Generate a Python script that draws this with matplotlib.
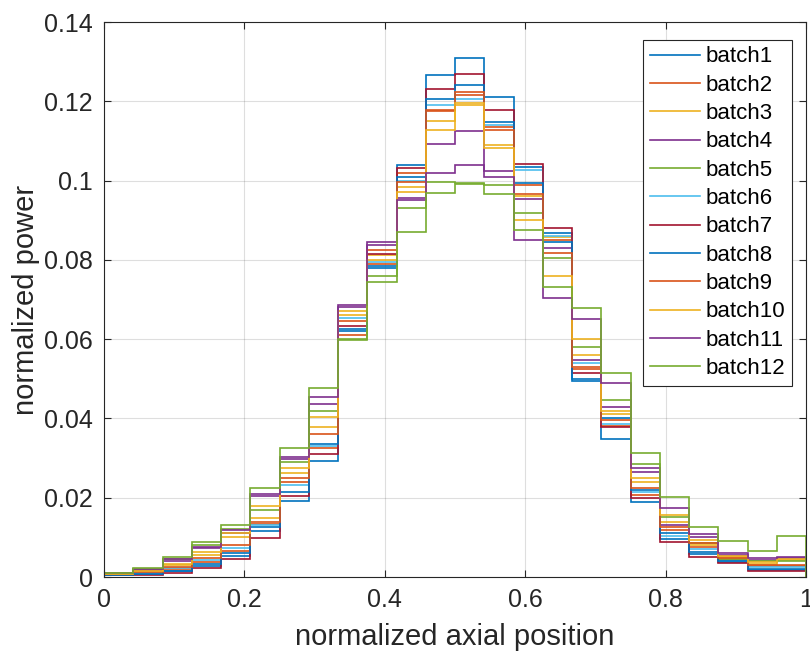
import matplotlib
matplotlib.use("Agg")
import matplotlib.pyplot as plt
import numpy as np

plt.rcParams['font.family'] = ['Liberation Sans', 'DejaVu Sans']

# 24 equal bins on [0, 1]
edges = np.linspace(0, 1, 25)

batch1 = [0.0005, 0.0007, 0.0014, 0.0028, 0.0052, 0.0115, 0.0192, 0.0293, 0.0620, 0.0780, 0.1040, 0.1266,
          0.1309, 0.1210, 0.1035, 0.0868, 0.0494, 0.0347, 0.0190, 0.0095, 0.0058, 0.0038, 0.0017, 0.0018]
batch2 = [0.0006, 0.0010, 0.0020, 0.0038, 0.0066, 0.0135, 0.0240, 0.0326, 0.0610, 0.0790, 0.1020, 0.1175,
          0.1215, 0.1135, 0.0990, 0.0850, 0.0525, 0.0382, 0.0207, 0.0118, 0.0075, 0.0043, 0.0027, 0.0028]
batch3 = [0.0007, 0.0014, 0.0030, 0.0056, 0.0100, 0.0150, 0.0262, 0.0379, 0.0660, 0.0812, 0.0985, 0.1150,
          0.1190, 0.1090, 0.0960, 0.0858, 0.0560, 0.0410, 0.0240, 0.0140, 0.0080, 0.0050, 0.0034, 0.0042]
batch4 = [0.0008, 0.0018, 0.0040, 0.0072, 0.0112, 0.0205, 0.0298, 0.0436, 0.0680, 0.0838, 0.0955, 0.1092,
          0.1126, 0.1023, 0.0953, 0.0831, 0.0547, 0.0430, 0.0266, 0.0131, 0.0100, 0.0056, 0.0043, 0.0048]
batch5 = [0.0009, 0.0021, 0.0046, 0.0082, 0.0122, 0.0170, 0.0290, 0.0420, 0.0598, 0.0760, 0.0930, 0.0997,
          0.0993, 0.0989, 0.0919, 0.0806, 0.0581, 0.0447, 0.0285, 0.0152, 0.0085, 0.0045, 0.0040, 0.0040]
batch6 = [0.0006, 0.0011, 0.0022, 0.0042, 0.0072, 0.0132, 0.0232, 0.0330, 0.0653, 0.0795, 0.1000, 0.1190,
          0.1207, 0.1140, 0.1027, 0.0860, 0.0539, 0.0385, 0.0215, 0.0104, 0.0070, 0.0040, 0.0025, 0.0025]
batch7 = [0.0004, 0.0006, 0.0011, 0.0023, 0.0045, 0.0098, 0.0205, 0.0310, 0.0632, 0.0815, 0.1031, 0.1230,
          0.1269, 0.1178, 0.1042, 0.0880, 0.0514, 0.0379, 0.0199, 0.0089, 0.0051, 0.0035, 0.0014, 0.0014]
batch8 = [0.0005, 0.0008, 0.0016, 0.0032, 0.0060, 0.0126, 0.0215, 0.0335, 0.0625, 0.0785, 0.1010, 0.1205,
          0.1241, 0.1149, 0.0993, 0.0846, 0.0500, 0.0400, 0.0220, 0.0110, 0.0064, 0.0041, 0.0019, 0.0020]
batch9 = [0.0007, 0.0013, 0.0026, 0.0048, 0.0081, 0.0140, 0.0250, 0.0360, 0.0645, 0.0825, 0.0997, 0.1178,
          0.1224, 0.1128, 0.0966, 0.0818, 0.0531, 0.0395, 0.0224, 0.0126, 0.0087, 0.0048, 0.0030, 0.0030]
batch10 = [0.0008, 0.0016, 0.0034, 0.0062, 0.0110, 0.0180, 0.0274, 0.0404, 0.0672, 0.0800, 0.0972, 0.1128,
           0.1195, 0.1081, 0.0901, 0.0759, 0.0600, 0.0420, 0.0250, 0.0156, 0.0093, 0.0052, 0.0037, 0.0045]
batch11 = [0.0009, 0.0019, 0.0045, 0.0076, 0.0118, 0.0210, 0.0304, 0.0455, 0.0686, 0.0845, 0.0951, 0.1019,
           0.1039, 0.1010, 0.0850, 0.0705, 0.0650, 0.0490, 0.0274, 0.0173, 0.0108, 0.0061, 0.0047, 0.0051]
batch12 = [0.0010, 0.0023, 0.0051, 0.0088, 0.0130, 0.0224, 0.0326, 0.0478, 0.0600, 0.0744, 0.0871, 0.0968,
           0.0991, 0.0966, 0.0875, 0.0731, 0.0678, 0.0514, 0.0312, 0.0203, 0.0125, 0.0092, 0.0066, 0.0103]

batches = [batch1, batch2, batch3, batch4, batch5, batch6,
           batch7, batch8, batch9, batch10, batch11, batch12]
labels = ['batch%d' % (i + 1) for i in range(len(batches))]

# matlab default colour order
colors = [(0, 0.447, 0.741), (0.850, 0.325, 0.098), (0.929, 0.694, 0.125),
          (0.494, 0.184, 0.556), (0.466, 0.674, 0.188), (0.301, 0.745, 0.933),
          (0.635, 0.078, 0.184)]

fig = plt.figure(figsize=(8.1, 6.54), dpi=100)
ax = fig.add_axes([0.1284, 0.1177, 0.8667, 0.8486])

for i, vals in enumerate(batches):
    ax.stairs(vals, edges, color=colors[i % len(colors)], lw=1.2, label=labels[i])

ax.set_xlim(0, 1)
ax.set_ylim(0, 0.14)
ax.set_xticks([0, 0.2, 0.4, 0.6, 0.8, 1])
ax.set_xticklabels(['0', '0.2', '0.4', '0.6', '0.8', '1'])
ax.set_yticks(np.arange(0, 0.141, 0.02))
ax.set_yticklabels(['0', '0.02', '0.04', '0.06', '0.08', '0.1', '0.12', '0.14'])

dark = (0.15, 0.15, 0.15)
ax.grid(True, color=dark, alpha=0.15, lw=0.8)
ax.set_axisbelow(True)
for s in ax.spines.values():
    s.set_color(dark)
    s.set_linewidth(0.8)
ax.tick_params(direction='in', length=5, colors=dark, labelsize=18, top=True, right=True,
               labeltop=False, labelright=False, pad=8)

ax.set_xlabel('normalized axial position', fontsize=21, color=dark, labelpad=8)
ax.set_ylabel('normalized power', fontsize=21, color=dark, labelpad=3)

leg = ax.legend(loc='upper right', bbox_to_anchor=(0.980, 0.968), fontsize=16, handlelength=2.25,
                handletextpad=0.25, labelspacing=0.33, borderpad=0.3, borderaxespad=0,
                fancybox=False, framealpha=1, edgecolor=dark)
leg.get_frame().set_linewidth(0.8)

fig.savefig('out.png', dpi=100)
